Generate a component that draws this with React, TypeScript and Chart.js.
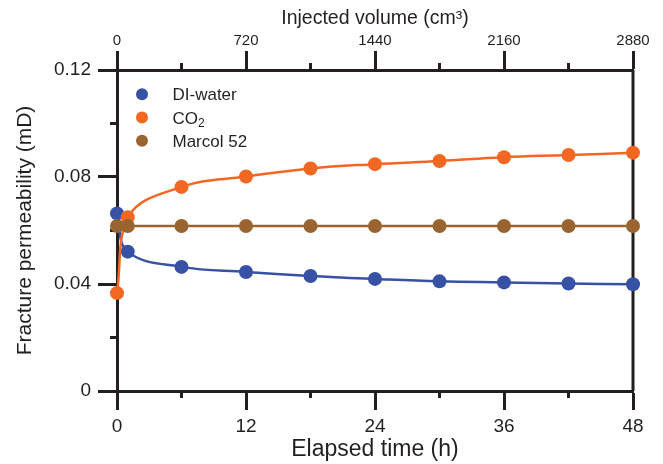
import { useEffect, useRef } from 'react';
import { Chart, registerables } from 'chart.js';

Chart.register(...registerables);

// ---- data ----
const hours = [0, 1, 6, 12, 18, 24, 30, 36, 42, 48];
const diWater = [0.0664, 0.0521, 0.0464, 0.0445, 0.043, 0.0419, 0.041, 0.0406, 0.0402, 0.0399];
const co2 = [0.0366, 0.065, 0.0763, 0.0802, 0.0832, 0.0848, 0.086, 0.0874, 0.0882, 0.0891];
const marcol52 = [0.0617, 0.0617, 0.0617, 0.0617, 0.0617, 0.0617, 0.0617, 0.0617, 0.0617, 0.0617];
const seriesLabels = ['DI-water', 'CO₂', 'Marcol 52'];
const timeTicks = [0, 12, 24, 36, 48];
const timeMinorTicks = [6, 18, 30, 42];
const volumeTicks = [0, 720, 1440, 2160, 2880];
const volumeMinorTicks = [360, 1080, 1800, 2520];
const permTicks = [0, 0.04, 0.08, 0.12];
const permMinorTicks = [0.02, 0.06, 0.1];

const COLORS = ['#3751a5', '#f26722', '#9a6431'];
const INK = '#231f20';
const FONT = '"Liberation Sans", Arial, Helvetica, sans-serif';

const W = 663;
const H = 464;
const PAD = { left: 9, right: 30, top: 2, bottom: 0 };
const AREA = { left: 117, right: 633, top: 70, bottom: 391 };
const MAJOR = 19;
const MINOR = 7;

const axesPlugin = {
  id: 'extraAxes',
  beforeDatasetsDraw(chart: any) {
    const ctx = chart.ctx;
    const { x, y, x2 } = chart.scales;
    const ca = chart.chartArea;
    ctx.save();
    ctx.strokeStyle = INK;
    ctx.lineWidth = 3;
    // right axis line
    ctx.beginPath();
    ctx.moveTo(ca.right, ca.top);
    ctx.lineTo(ca.right, ca.bottom);
    ctx.stroke();
    // minor ticks
    timeMinorTicks.forEach((v) => {
      const px = x.getPixelForValue(v);
      ctx.beginPath();
      ctx.moveTo(px, ca.bottom);
      ctx.lineTo(px, ca.bottom + MINOR);
      ctx.stroke();
    });
    volumeMinorTicks.forEach((v) => {
      const px = x2.getPixelForValue(v);
      ctx.beginPath();
      ctx.moveTo(px, ca.top);
      ctx.lineTo(px, ca.top - MINOR);
      ctx.stroke();
    });
    permMinorTicks.forEach((v) => {
      const py = y.getPixelForValue(v);
      ctx.beginPath();
      ctx.moveTo(ca.left, py);
      ctx.lineTo(ca.left - MINOR, py);
      ctx.stroke();
    });
    ctx.restore();
  },
  afterDraw(chart: any) {
    const ctx = chart.ctx;
    const ca = chart.chartArea;
    const startX = ca.left + 25;
    const startY = ca.top + 24.3;
    const gap = 23.2;
    ctx.save();
    chart.data.datasets.forEach((ds: any, i: number) => {
      const cy = startY + i * gap;
      ctx.fillStyle = ds.backgroundColor;
      ctx.beginPath();
      ctx.arc(startX, cy, 6, 0, Math.PI * 2);
      ctx.fill();
      ctx.fillStyle = INK;
      ctx.textBaseline = 'alphabetic';
      ctx.textAlign = 'left';
      let tx = startX + 30.5;
      const base = cy + 6;
      const label: string = ds.label;
      for (const ch of label) {
        if (ch === '₂') {
          ctx.font = `12px ${FONT}`;
          ctx.fillText('2', tx, base + 3.4);
          tx += ctx.measureText('2').width;
        } else {
          ctx.font = `17px ${FONT}`;
          ctx.fillText(ch, tx, base);
          tx += ctx.measureText(ch).width;
        }
      }
    });
    ctx.restore();
  },
};

export default function App() {
  const ref = useRef<HTMLCanvasElement>(null);

  useEffect(() => {
    document.body.style.margin = '0';
    const canvas = ref.current;
    if (!canvas) return;

    const seriesValues = [diWater, co2, marcol52];
    const orders = [2, 1, 0];

    const chart = new Chart(canvas, {
      type: 'line',
      data: {
        datasets: seriesValues.map((vals, i) => ({
          label: seriesLabels[i],
          data: hours.map((h, j) => ({ x: h, y: vals[j] })),
          borderColor: COLORS[i],
          backgroundColor: COLORS[i],
          pointBackgroundColor: COLORS[i],
          pointBorderWidth: 0,
          pointRadius: 7,
          borderWidth: 2.5,
          tension: 0.4,
          clip: false,
          order: orders[i],
          xAxisID: 'x',
          yAxisID: 'y',
        })) as any,
      },
      options: {
        animation: false,
        responsive: true,
        maintainAspectRatio: false,
        layout: { padding: PAD },
        plugins: {
          legend: { display: false },
          tooltip: { enabled: false },
        },
        scales: {
          x: {
            type: 'linear',
            position: 'bottom',
            min: 0,
            max: 48,
            afterBuildTicks: (s: any) => {
              s.ticks = timeTicks.map((v) => ({ value: v }));
            },
            afterFit: (s: any) => {
              s.height = H - AREA.bottom - PAD.bottom;
            },
            ticks: {
              color: INK,
              font: { family: FONT, size: 19 },
              padding: 5,
              maxRotation: 0,
              autoSkip: false,
              callback: (v: any) => String(v),
            },
            grid: {
              drawOnChartArea: false,
              tickLength: MAJOR,
              tickWidth: 3,
              tickColor: INK,
            },
            border: { color: INK, width: 3 },
            title: {
              display: true,
              text: 'Elapsed time (h)',
              color: INK,
              font: { family: FONT, size: 23 },
              padding: { top: 0, bottom: 1 },
            },
          },
          x2: {
            type: 'linear',
            axis: 'x',
            position: 'top',
            min: 0,
            max: 2880,
            afterBuildTicks: (s: any) => {
              s.ticks = volumeTicks.map((v) => ({ value: v }));
            },
            afterFit: (s: any) => {
              s.height = AREA.top - PAD.top;
            },
            ticks: {
              color: INK,
              font: { family: FONT, size: 15 },
              padding: 1,
              maxRotation: 0,
              autoSkip: false,
              callback: (v: any) => String(v),
            },
            grid: {
              drawOnChartArea: false,
              tickLength: MAJOR,
              tickWidth: 3,
              tickColor: INK,
            },
            border: { color: INK, width: 3 },
            title: {
              display: true,
              text: 'Injected volume (cm³)',
              color: INK,
              font: { family: FONT, size: 19.5 },
              padding: { top: 5, bottom: 0 },
            },
          },
          y: {
            type: 'linear',
            position: 'left',
            min: 0,
            max: 0.12,
            afterBuildTicks: (s: any) => {
              s.ticks = permTicks.map((v) => ({ value: v }));
            },
            afterFit: (s: any) => {
              s.width = AREA.left - PAD.left;
            },
            ticks: {
              color: INK,
              font: { family: FONT, size: 19 },
              padding: 7,
              callback: (v: any) => (Number(v) === 0 ? '0' : Number(v).toFixed(2)),
            },
            grid: {
              drawOnChartArea: false,
              tickLength: MAJOR,
              tickWidth: 3,
              tickColor: INK,
            },
            border: { color: INK, width: 3 },
            title: {
              display: true,
              text: 'Fracture permeability (mD)',
              color: INK,
              font: { family: FONT, size: 21 },
              padding: { top: 4, bottom: 0 },
            },
          },
        },
      },
      plugins: [axesPlugin],
    });

    return () => chart.destroy();
  }, []);

  return (
    <div style={{ width: W, height: H, position: 'relative', background: '#fff' }}>
      <canvas ref={ref} />
    </div>
  );
}
